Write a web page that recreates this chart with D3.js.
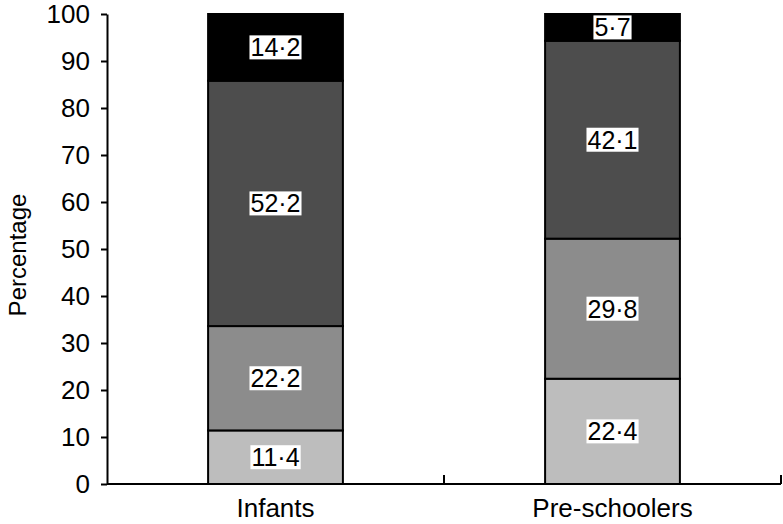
<!DOCTYPE html>
<html>
<head>
<meta charset="utf-8">
<script src="https://cdn.jsdelivr.net/npm/d3@7"></script>
<style>
  body { margin: 0; background: #fff; }
  text { font-family: "Liberation Sans", Arial, sans-serif; }
</style>
</head>
<body>
<svg id="chart" width="783" height="524"></svg>
<script>
// Data
const categories = ["Infants", "Pre-schoolers"];
const infants = [11.4, 22.2, 52.2, 14.2];
const preschoolers = [22.4, 29.8, 42.1, 5.7];
const yTicks = [0, 10, 20, 30, 40, 50, 60, 70, 80, 90, 100];
const segColors = ["#bdbdbd", "#8c8c8c", "#4d4d4d", "#000000"];

const series = [infants, preschoolers];

const svg = d3.select("#chart");
const margin = { left: 107, right: 2, top: 14, bottom: 40 };
const width = 783, height = 524;
const axisFont = 26, labelFont = 25, titleFont = 24;

const x = d3.scaleBand()
    .domain(categories)
    .range([margin.left, width - margin.right])
    .paddingInner(0.6)
    .paddingOuter(0.3);

const y = d3.scaleLinear()
    .domain([0, 100])
    .range([height - margin.bottom, margin.top]);

// Bars
categories.forEach((cat, i) => {
    const vals = series[i];
    let base = 0;
    vals.forEach((v, j) => {
        const y0 = base, y1 = base + v;
        base = y1;
        svg.append("rect")
            .attr("x", x(cat))
            .attr("y", y(y1))
            .attr("width", x.bandwidth())
            .attr("height", y(y0) - y(y1))
            .attr("fill", segColors[j])
            .attr("stroke", "#000")
            .attr("stroke-width", 2);

        const label = svg.append("g")
            .attr("transform", `translate(${x(cat) + x.bandwidth() / 2},${y((y0 + y1) / 2)})`);
        const t = label.append("text")
            .attr("text-anchor", "middle")
            .attr("dy", "0.36em")
            .attr("font-size", labelFont + "px")
            .attr("fill", "#000")
            .text(v.toFixed(1).replace(".", "\u00B7"));
        const bb = t.node().getBBox();
        label.insert("rect", "text")
            .attr("x", bb.x - 1)
            .attr("y", -12)
            .attr("width", bb.width + 2)
            .attr("height", 24)
            .attr("fill", "#fff");
    });
});

// Y axis
const yAxis = svg.append("g")
    .attr("transform", `translate(${margin.left},0)`)
    .call(d3.axisLeft(y).tickValues(yTicks).tickSize(6).tickPadding(11).tickSizeOuter(0));
yAxis.select(".domain").attr("stroke-width", 2);
yAxis.selectAll(".tick line").attr("stroke-width", 2);
yAxis.selectAll(".tick text").attr("font-size", axisFont + "px").attr("fill", "#000")
    .attr("font-family", "Liberation Sans, Arial, sans-serif");

// X axis
const xAxisY = y(0);
svg.append("line")
    .attr("x1", margin.left).attr("x2", width - margin.right)
    .attr("y1", xAxisY).attr("y2", xAxisY)
    .attr("stroke", "#000").attr("stroke-width", 2);

// tick marks at band boundaries (pointing up)
const bounds = categories.map(c => x(c) + x.bandwidth() + x.step() * x.paddingInner() / 2);
svg.selectAll(".xtick")
    .data(bounds)
    .join("line")
    .attr("x1", d => d).attr("x2", d => d)
    .attr("y1", xAxisY).attr("y2", xAxisY - 9)
    .attr("stroke", "#000").attr("stroke-width", 2);

svg.selectAll(".xlabel")
    .data(categories)
    .join("text")
    .attr("x", d => x(d) + x.bandwidth() / 2)
    .attr("y", xAxisY + 33)
    .attr("text-anchor", "middle")
    .attr("font-size", axisFont + "px")
    .text(d => d);

// Y title
svg.append("text")
    .attr("transform", `translate(26,${(y(0) + y(100)) / 2 + 6}) rotate(-90)`)
    .attr("text-anchor", "middle")
    .attr("font-size", titleFont + "px")
    .text("Percentage");
</script>
</body>
</html>
